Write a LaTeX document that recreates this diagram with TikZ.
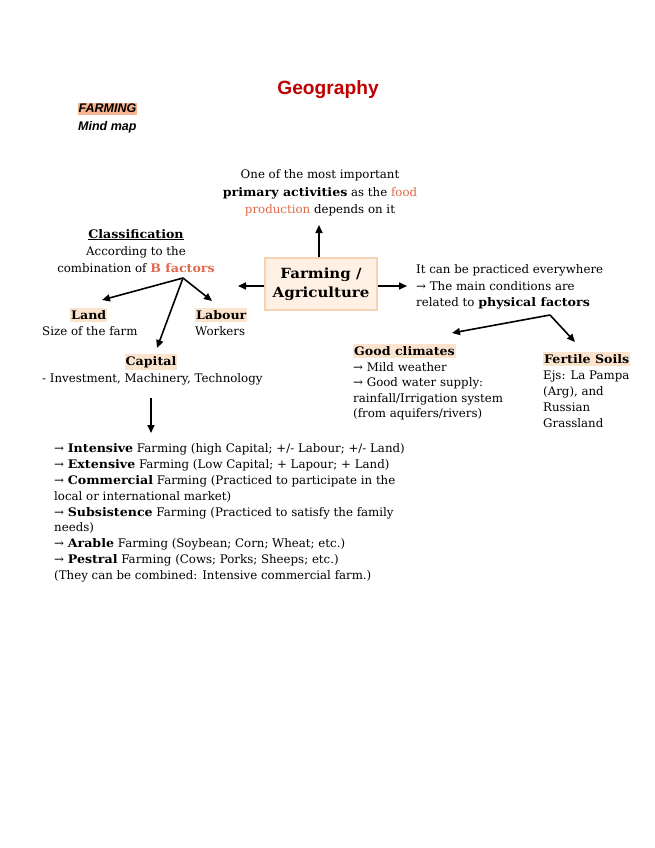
\documentclass[tikz,border=0pt]{standalone}
\usepackage{fontspec}
\setmainfont{DejaVu Serif}[BoldFeatures={FakeStretch=1.07}]
\newfontfamily\hdfont{Liberation Sans}
\usetikzlibrary{arrows.meta}
\definecolor{geored}{HTML}{C00000}
\definecolor{peach}{HTML}{FCE3CE}
\definecolor{farmhl}{HTML}{F8B390}
\definecolor{boxfill}{HTML}{FEF0E3}
\definecolor{boxline}{HTML}{F8D2B0}
\definecolor{orangetxt}{HTML}{E0684A}
\tikzset{
  txt/.style={inner sep=0pt, anchor=base west, font=\fontsize{11.8}{14}\selectfont},
  ctxt/.style={txt, anchor=base},
  hl/.style={txt, fill=peach, inner xsep=1pt, inner ysep=2.5pt, font=\fontsize{11.8}{14}\selectfont\bfseries},
  arr/.style={line width=1.6pt, -{Triangle[length=8pt,width=7pt]}},
  mainbox/.style={draw=boxline, line width=1.2pt, fill=boxfill, minimum width=112pt, minimum height=52pt, align=center, font=\fontsize{14}{19.5}\selectfont\bfseries}
}
\begin{document}
\begin{tikzpicture}[x=1pt,y=-1pt]
\useasboundingbox (0,0) rectangle (655,848);
% header
\node[ctxt, font=\hdfont\fontsize{19.2}{21}\selectfont\bfseries, text=geored] (title) at (328,95) {Geography};
\node[txt, fill=farmhl, inner xsep=0.5pt, inner ysep=1.5pt, font=\hdfont\fontsize{12.5}{14}\selectfont\bfseries\itshape] (farming) at (78,113) {FARMING};
\node[txt, font=\hdfont\fontsize{12.5}{14}\selectfont\bfseries\itshape] (mindmap) at (78,131) {Mind map};
% central box
\node[mainbox] (box) at (321,284) {Farming /\\Agriculture};
% top text
\node[ctxt] (t1) at (320,178) {One of the most important};
\node[ctxt] (t2) at (320,196) {\textbf{primary activities} as the \textcolor{orangetxt}{food}};
\node[ctxt] (t3) at (320,213) {\textcolor{orangetxt}{production} depends on it};
\coordinate (uptip) at (319,225);
\draw[arr] (box.north -| uptip) -- (uptip);
% right text
\node[txt] (r1) at (416,273) {It can be practiced everywhere};
\node[txt] (r2) at (416,290) {→ The main conditions are};
\node[txt] (r3) at (416,306) {related to \textbf{physical factors}};
\coordinate (righttip) at (407,286);
\draw[arr] (box.east |- righttip) -- (righttip);
% left / classification
\coordinate (lefttip) at (238,286);
\draw[arr] (box.west |- lefttip) -- (lefttip);
\node[ctxt, font=\fontsize{11.8}{14}\selectfont\bfseries] (c1) at (136,238) {\underline{Classification}};
\node[ctxt] (c2) at (136,255) {According to the};
\node[ctxt] (c3) at (136,272) {combination of \textcolor{orangetxt}{\textbf{B factors}}};
\coordinate (fork1) at (183,278);
\coordinate (landtip) at (102,300);
\coordinate (labourtip) at (212,301);
\coordinate (capitaltip) at (157,348);
\draw[arr] (fork1) -- (landtip);
\draw[arr] (fork1) -- (labourtip);
\draw[arr] (fork1) -- (capitaltip);
\node[hl] (land) at (70,319) {Land};
\node[txt] (landd) at (42,335) {Size of the farm};
\node[hl] (labour) at (195,319) {Labour};
\node[txt] (labourd) at (195,335) {Workers};
\node[hl, anchor=base] (capital) at (151,365) {Capital};
\node[txt] (capitald) at (42,382) {- Investment, Machinery, Technology};
\coordinate (liststart) at (151,398);
\coordinate (listtip) at (151,433);
\draw[arr] (liststart) -- (listtip);
% list
\node[txt] (i1) at (54,452) {→ \textbf{Intensive} Farming (high Capital; +/- Labour; +/- Land)};
\node[txt] (i2) at (54,468) {→ \textbf{Extensive} Farming (Low Capital; + Lapour; + Land)};
\node[txt] (i3) at (54,484) {→ \textbf{Commercial} Farming (Practiced to participate in the};
\node[txt] (i4) at (54,500) {local or international market)};
\node[txt] (i5) at (54,516) {→ \textbf{Subsistence} Farming (Practiced to satisfy the family};
\node[txt] (i6) at (54,531) {needs)};
\node[txt] (i7) at (54,547) {→ \textbf{Arable} Farming (Soybean; Corn; Wheat; etc.)};
\node[txt] (i8) at (54,563) {→ \textbf{Pestral} Farming (Cows; Porks; Sheeps; etc.)};
\node[txt] (i9) at (54,579) {(They can be combined: Intensive commercial farm.)};
% physical factors branches
\coordinate (fork2) at (550,315);
\coordinate (climtip) at (452,333);
\coordinate (soiltip) at (575,342);
\draw[arr] (fork2) -- (climtip);
\draw[arr] (fork2) -- (soiltip);
\node[hl] (clim) at (353,355) {Good climates};
\node[txt] (g1) at (353,371) {→ Mild weather};
\node[txt] (g2) at (353,386) {→ Good water supply:};
\node[txt] (g3) at (353,402) {rainfall/Irrigation system};
\node[txt] (g4) at (353,417) {(from aquifers/rivers)};
\node[hl] (soil) at (543,363) {Fertile Soils};
\node[txt] (s1) at (543,379) {Ejs: La Pampa};
\node[txt] (s2) at (543,395) {(Arg), and};
\node[txt] (s3) at (543,411) {Russian};
\node[txt] (s4) at (543,427) {Grassland};
\end{tikzpicture}
\end{document}
